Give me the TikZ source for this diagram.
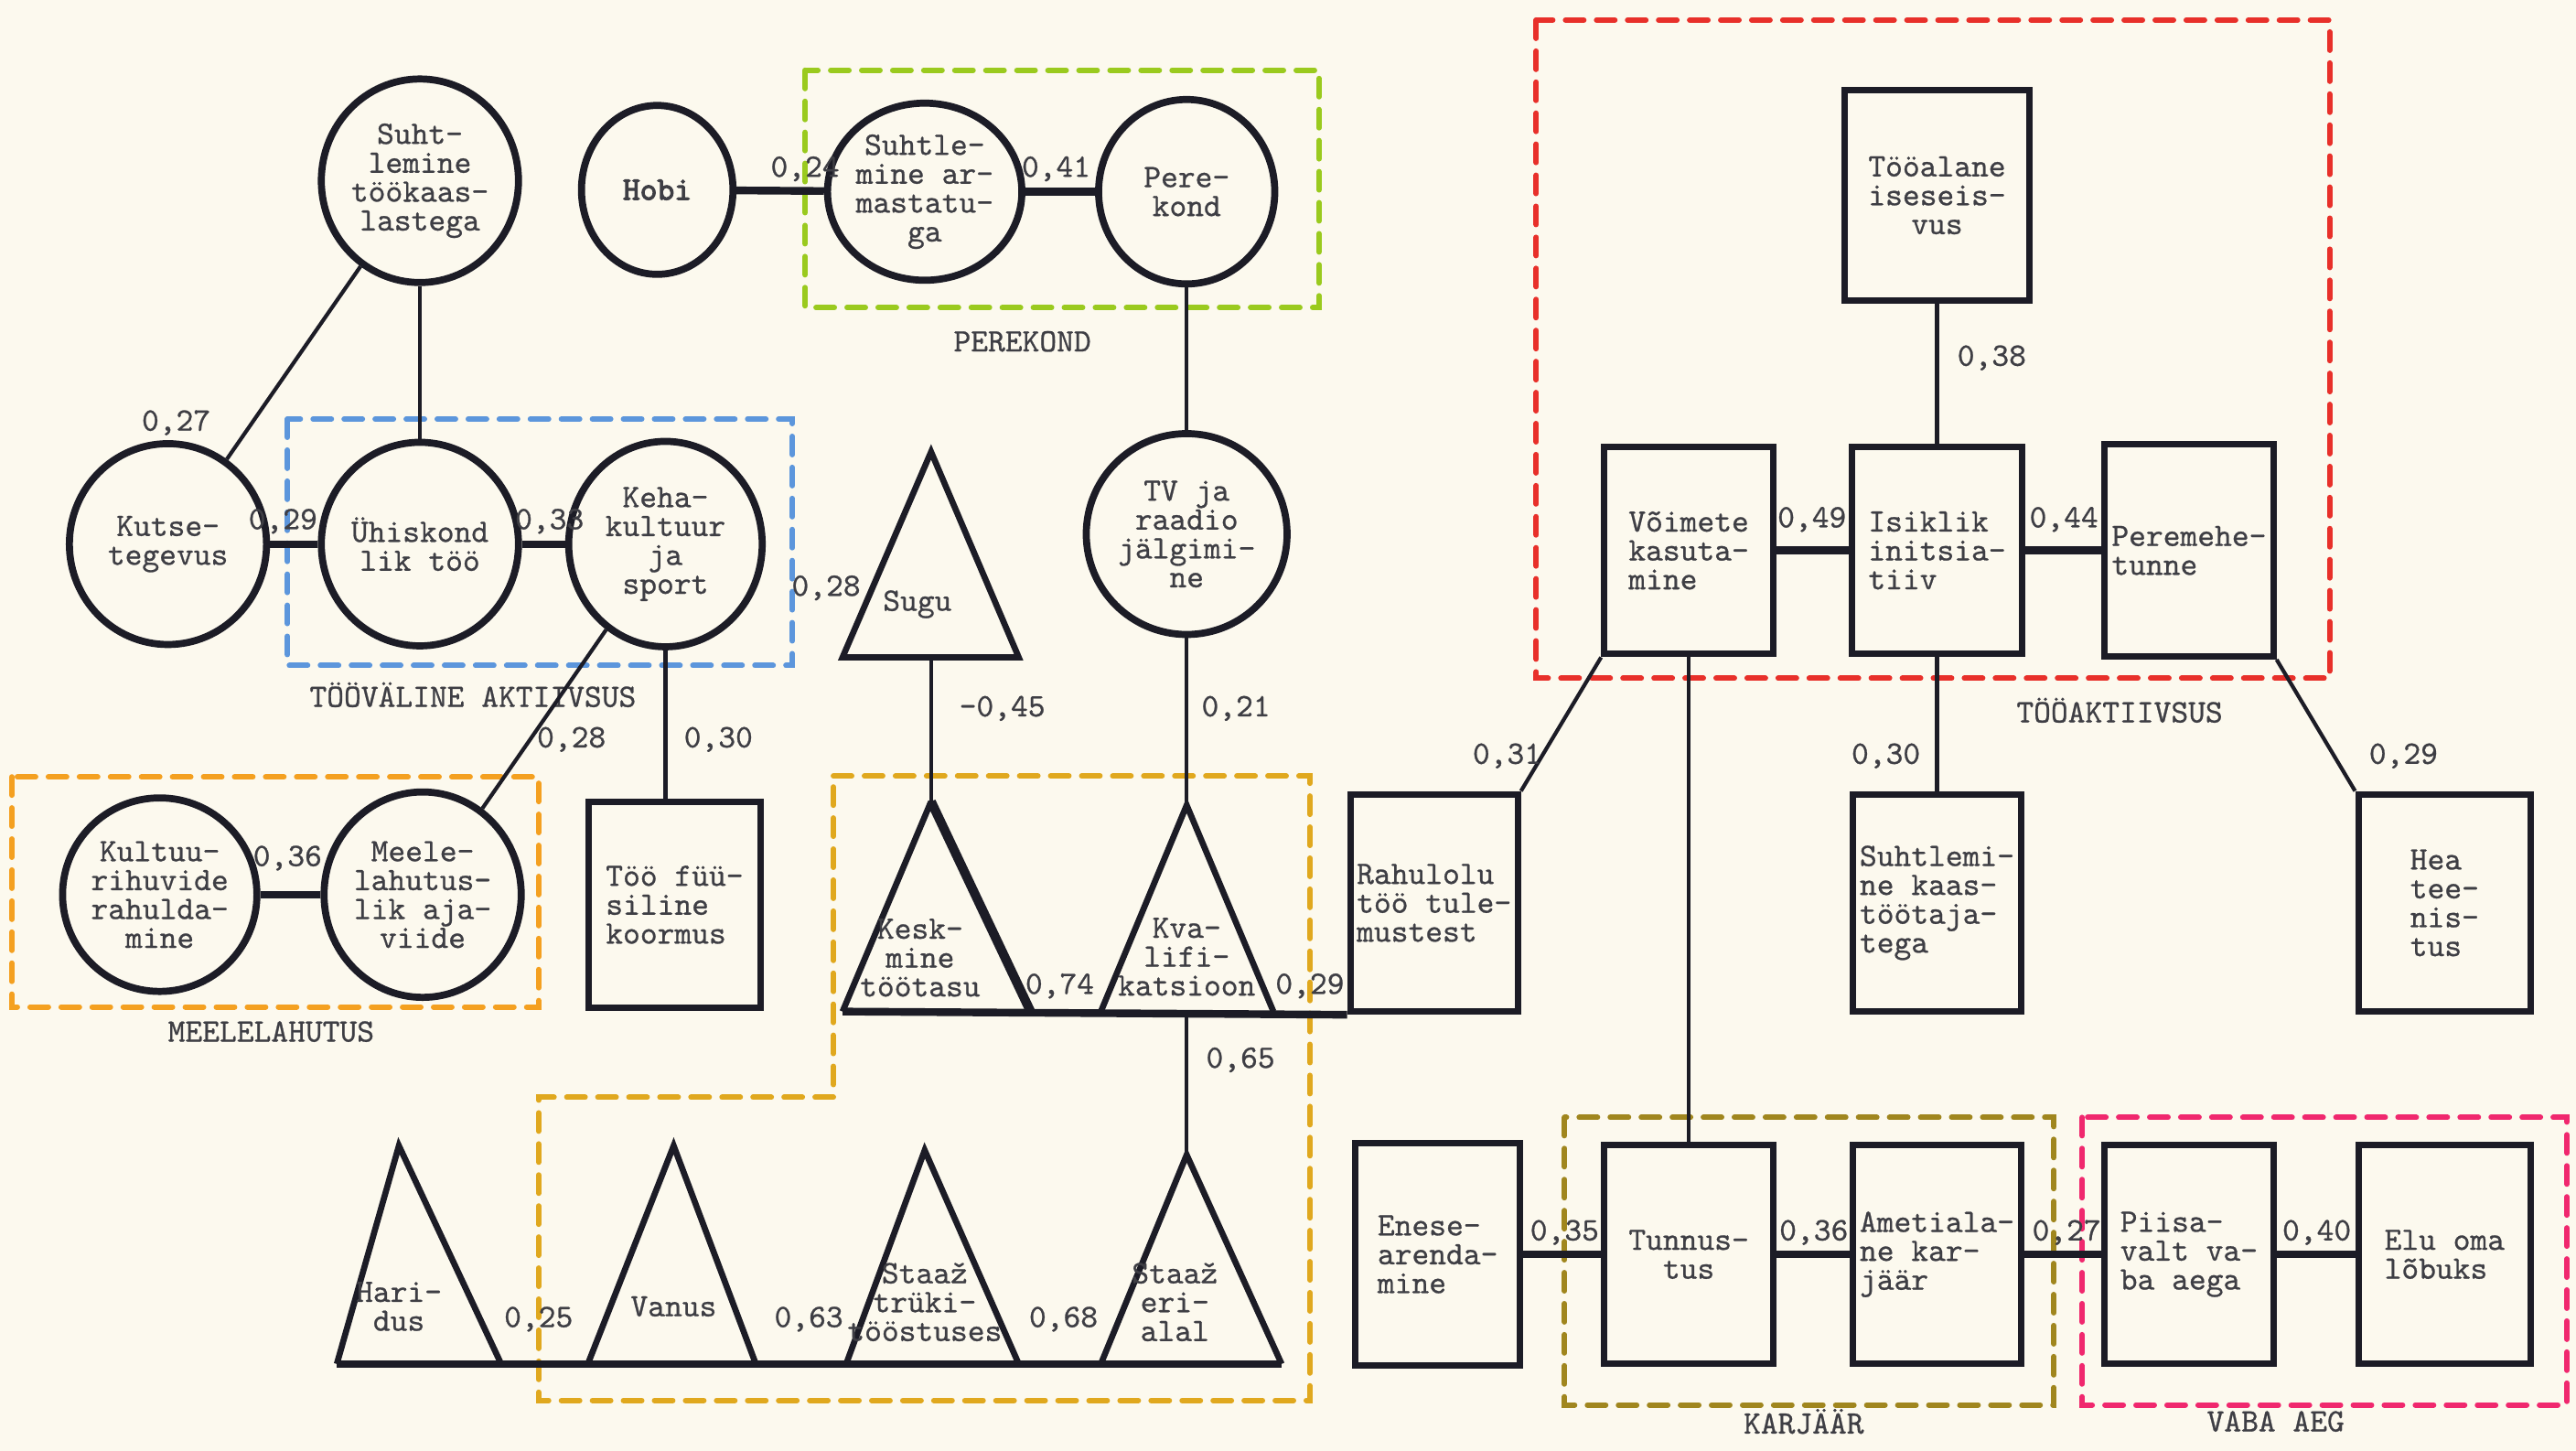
\documentclass[tikz,border=0pt]{standalone}
\usepackage{fontspec}
\setmainfont{lmmono10-regular.otf}[FakeBold=0.7]
\newfontfamily\hobifont{lmmono10-regular.otf}[FakeBold=3]
\usepackage{xcolor}
\usepackage{tikz}
\usetikzlibrary{shapes.geometric}
\definecolor{Paper}{HTML}{FCF9EE}
\definecolor{Ink}{HTML}{1C1C26}
\definecolor{TypeGray}{HTML}{3E3E44}
\definecolor{FamGreen}{HTML}{9ACA1E}
\definecolor{LeisBlue}{HTML}{5C96DC}
\definecolor{FunOrange}{HTML}{F4A020}
\definecolor{JobGold}{HTML}{E0A81E}
\definecolor{WorkRed}{HTML}{E8302A}
\definecolor{CareerOlive}{HTML}{A0861E}
\definecolor{FreePink}{HTML}{F0286E}

\begin{document}
\begin{tikzpicture}[
  ring/.style={ellipse,draw=Ink,line width=2.2pt,minimum width=2.16cm,minimum height=2.2cm,inner sep=0pt,align=center,font=\fontsize{10.2}{9}\selectfont,text=TypeGray},
  cell/.style={rectangle,draw=Ink,line width=2pt,minimum width=1.85cm,minimum height=2.35cm,inner sep=2pt,align=left,font=\fontsize{10.2}{9}\selectfont,text=TypeGray},
  tri/.style={draw=Ink,line width=1.9pt,line join=miter},
  trilabel/.style={align=center,inner sep=0pt,font=\fontsize{10.2}{9}\selectfont,text=TypeGray},
  link/.style={draw=Ink,line width=1.2pt},
  bond/.style={draw=Ink,line width=2.4pt},
  grp/.style={dash pattern=on 0.2cm off 0.14cm,line width=1.7pt,line cap=round},
  grplabel/.style={inner sep=0pt,font=\fontsize{10.2}{9}\selectfont,text=TypeGray},
  val/.style={inner sep=0pt,font=\fontsize{10.2}{9}\selectfont,text=TypeGray}
]
\path[use as bounding box,fill=Paper] (0,0) rectangle (28.22,-15.89);

% group frames
\draw[grp,FamGreen] (8.82,-0.77) rectangle (14.45,-3.37);
\draw[grp,LeisBlue] (3.15,-4.59) rectangle (8.68,-7.29);
\draw[grp,FunOrange] (0.13,-8.51) rectangle (5.9,-11.03);
\draw[grp,JobGold] (9.13,-8.5) -- (14.35,-8.5) -- (14.35,-15.34) -- (5.9,-15.34) -- (5.9,-12.02) -- (9.13,-12.02) -- cycle;
\draw[grp,WorkRed] (16.83,-0.22) rectangle (25.52,-7.43);
\draw[grp,CareerOlive] (17.14,-12.24) rectangle (22.5,-15.39);
\draw[grp,FreePink] (22.81,-12.24) rectangle (28.12,-15.39);

\node[grplabel] (perekond) at (11.2,-3.74) {PEREKOND};
\node[grplabel] (toovaline) at (5.18,-7.61) {TÖÖVÄLINE AKTIIVSUS};
\node[grplabel] (meelelahutus) at (2.97,-11.3) {MEELELAHUTUS};
\node[grplabel] (tooaktiivsus) at (23.22,-7.78) {TÖÖAKTIIVSUS};
\node[grplabel] (karjaar) at (19.76,-15.57) {KARJÄÄR};
\node[grplabel] (vabaaeg) at (24.93,-15.57) {VABA AEG};

% circles
\node[ring,minimum height=2.23cm] (suht) at (4.6,-1.98) {Suht-\\lemine\\töökaas-\\lastega};
\node[ring,minimum width=1.66cm,minimum height=1.85cm,font=\fontsize{10.2}{9}\hobifont] (hobi) at (7.2,-2.08) {Hobi};
\node[ring,minimum width=1.69cm,minimum height=1.94cm] (arm) at (10.13,-2.1) {Suhtle-\\mine ar-\\mastatu-\\ga};
\node[ring,minimum width=1.93cm,minimum height=2.02cm] (pere) at (13.0,-2.1) {Pere-\\kond};
\node[ring] (kutse) at (1.84,-5.96) {Kutse-\\tegevus};
\node[ring,minimum height=2.23cm] (yhis) at (4.6,-5.96) {Ühiskond\\lik töö};
\node[ring,minimum width=2.12cm,minimum height=2.25cm] (keha) at (7.29,-5.96) {Keha-\\kultuur\\ja\\sport};
\node[ring,minimum width=2.2cm] (tv) at (13.0,-5.85) {TV ja\\raadio\\jälgimi-\\ne};
\node[ring,minimum width=2.07cm,minimum height=2.12cm] (kult) at (1.75,-9.8) {Kultuu-\\rihuvide\\rahulda-\\mine};
\node[ring,minimum height=2.25cm] (meele) at (4.63,-9.8) {Meele-\\lahutus-\\lik aja-\\viide};

% boxes
\node[cell,minimum width=1.89cm,minimum height=2.25cm] (toof) at (7.39,-9.91) {Töö füü-\\siline\\koormus};
\node[cell,minimum width=2.02cm,minimum height=2.3cm,align=center] (tooal) at (21.22,-2.14) {Tööalane\\iseseis-\\vus};
\node[cell,minimum height=2.27cm] (voim) at (18.5,-6.03) {Võimete\\kasuta-\\mine};
\node[cell,minimum width=1.87cm,minimum height=2.27cm] (isik) at (21.22,-6.03) {Isiklik\\initsia-\\tiiv};
\node[cell,minimum height=2.32cm] (perem) at (23.98,-6.03) {Peremehe-\\tunne};
\node[cell,minimum width=1.8cm,minimum height=2.38cm] (rahul) at (15.71,-9.89) {Rahulolu\\töö tule-\\mustest};
\node[cell,minimum height=2.38cm] (suhtk) at (21.22,-9.89) {Suhtlemi-\\ne kaas-\\töötaja-\\tega};
\node[cell,minimum width=1.89cm,minimum height=2.38cm] (hea) at (26.78,-9.89) {Hea\\tee-\\nis-\\tus};
\node[cell,minimum width=1.8cm,minimum height=2.43cm] (enese) at (15.75,-13.74) {Enese-\\arenda-\\mine};
\node[cell,minimum height=2.4cm,align=center] (tunn) at (18.5,-13.74) {Tunnus-\\tus};
\node[cell,minimum height=2.4cm] (amet) at (21.22,-13.74) {Ametiala-\\ne kar-\\jäär};
\node[cell,minimum height=2.4cm] (piisa) at (23.98,-13.74) {Piisa-\\valt va-\\ba aega};
\node[cell,minimum width=1.89cm,minimum height=2.4cm] (elu) at (26.78,-13.74) {Elu oma\\lõbuks};

% triangles
\coordinate (sugu-top) at (10.2,-4.95);
\coordinate (sugu-base) at (10.2,-7.2);
\draw[tri] (9.23,-7.2) -- (sugu-top) -- (11.16,-7.2) -- cycle;
\node[trilabel] (sugu) at (10.05,-6.62) {Sugu};

\coordinate (kesk-top) at (10.2,-8.78);
\coordinate (kesk-l) at (9.23,-11.08);
\draw[tri] (kesk-l) -- (kesk-top);
\draw[tri,line width=2.9pt] (kesk-top) -- (11.29,-11.08);
\node[trilabel] (kesk) at (10.08,-10.49) {Kesk-\\mine\\töötasu};

\coordinate (kval-top) at (13.0,-8.82);
\coordinate (kval-base) at (13.0,-11.08);
\draw[tri] (12.06,-11.08) -- (kval-top) -- (13.95,-11.08);
\node[trilabel] (kval) at (13.0,-10.48) {Kva-\\lifi-\\katsioon};

\coordinate (hari-top) at (4.37,-12.55);
\coordinate (hari-l) at (3.69,-14.94);
\draw[tri] (hari-l) -- (hari-top) -- (5.49,-14.94);
\node[trilabel] (hari) at (4.37,-14.31) {Hari-\\dus};

\coordinate (vanus-top) at (7.38,-12.55);
\draw[tri] (6.44,-14.94) -- (vanus-top) -- (8.28,-14.94);
\node[trilabel] (vanus) at (7.38,-14.31) {Vanus};

\coordinate (stat-top) at (10.13,-12.6);
\draw[tri] (9.27,-14.94) -- (stat-top) -- (11.16,-14.94);
\node[trilabel] (stat) at (10.13,-14.26) {Staaž\\trüki-\\tööstuses};

\coordinate (stae-top) at (13.0,-12.65);
\coordinate (stae-r) at (14.04,-14.94);
\draw[tri] (12.06,-14.94) -- (stae-top) -- (stae-r);
\node[trilabel] (stae) at (12.87,-14.26) {Staaž\\eri-\\alal};

% connectors
\draw[link] (suht) -- (kutse);
\draw[link] (suht) -- (yhis);
\draw[bond] (kutse) -- (yhis);
\draw[bond] (yhis) -- (keha);
\draw[bond] (hobi) -- (arm);
\draw[bond] (arm) -- (pere);
\draw[link] (pere) -- (tv);
\draw[link] (keha) -- (meele);
\draw[link] (keha.south) -- (keha.south |- toof.north);
\draw[bond] (kult) -- (meele);
\draw[link] (sugu-base) -- (kesk-top);
\draw[link] (tv) -- (kval-top);
\draw[link] (kval-base) -- (stae-top);
\draw[bond] (kesk-l) -- (rahul.south west);
\draw[bond] (hari-l) -- (stae-r);

\draw[link] (tooal) -- (isik);
\draw[bond] (voim) -- (isik);
\draw[bond] (isik) -- (perem);
\draw[link] (voim.south west) -- (rahul.north east);
\draw[link] (voim) -- (tunn);
\draw[link] (isik) -- (suhtk);
\draw[link] (perem.south east) -- (hea.north west);
\draw[bond] (enese) -- (tunn);
\draw[bond] (tunn) -- (amet);
\draw[bond] (amet) -- (piisa);
\draw[bond] (piisa) -- (elu);

% coefficients
\node[val] (v-suht-kutse) at (1.93,-4.63) {0,27};
\node[val] (v-kutse-yhis) at (3.1,-5.71) {0,29};
\node[val] (v-yhis-keha) at (6.02,-5.71) {0,33};
\node[val] (v-hobi-arm) at (8.82,-1.85) {0,24};
\node[val] (v-arm-pere) at (11.57,-1.85) {0,41};
\node[val] (v-grp-sugu) at (9.05,-6.44) {0,28};
\node[val] (v-keha-meele) at (6.26,-8.1) {0,28};
\node[val] (v-keha-toof) at (7.87,-8.1) {0,30};
\node[val] (v-sugu-kesk) at (10.98,-7.76) {-0,45};
\node[val] (v-tv-kval) at (13.54,-7.76) {0,21};
\node[val] (v-kult-meele) at (3.15,-9.4) {0,36};
\node[val] (v-kesk) at (11.61,-10.8) {0,74};
\node[val] (v-kval) at (14.35,-10.8) {0,29};
\node[val] (v-kval-stae) at (13.59,-11.61) {0,65};
\node[val] (v-hari) at (5.9,-14.45) {0,25};
\node[val] (v-vanus) at (8.86,-14.45) {0,63};
\node[val] (v-stat) at (11.65,-14.45) {0,68};
\node[val] (v-tooal-isik) at (21.82,-3.92) {0,38};
\node[val] (v-voim-isik) at (19.85,-5.69) {0,49};
\node[val] (v-isik-perem) at (22.61,-5.69) {0,44};
\node[val] (v-voim-rahul) at (16.51,-8.28) {0,31};
\node[val] (v-isik-suhtk) at (20.66,-8.28) {0,30};
\node[val] (v-perem-hea) at (26.33,-8.28) {0,29};
\node[val] (v-enese-tunn) at (17.14,-13.5) {0,35};
\node[val] (v-tunn-amet) at (19.87,-13.5) {0,36};
\node[val] (v-amet-piisa) at (22.64,-13.5) {0,27};
\node[val] (v-piisa-elu) at (25.38,-13.5) {0,40};
\end{tikzpicture}
\end{document}
